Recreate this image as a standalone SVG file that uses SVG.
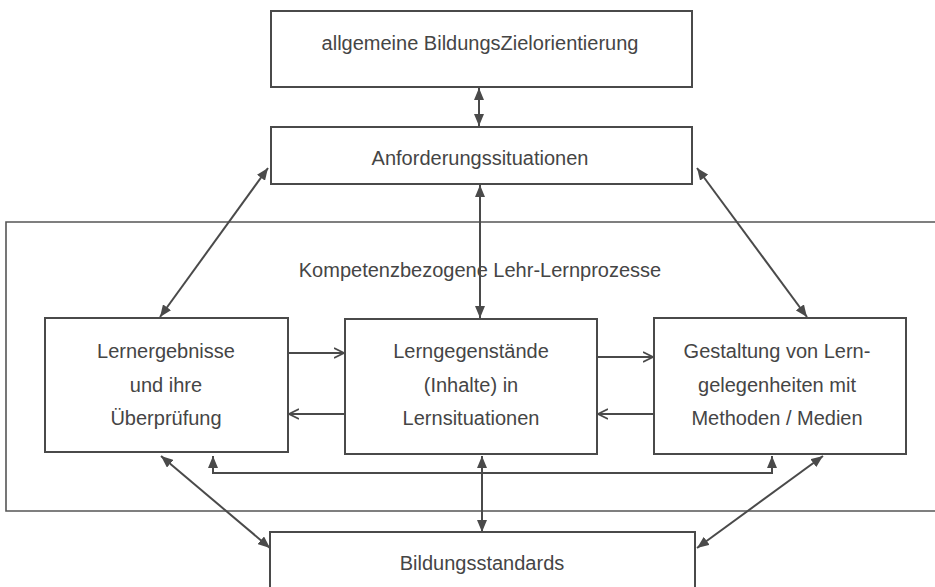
<svg xmlns="http://www.w3.org/2000/svg" width="935" height="587" viewBox="0 0 935 587">
<defs>
<style>
.box{fill:#fff;stroke:#4a4a4a;stroke-width:2}
.frame{fill:none;stroke:#555;stroke-width:1.6}
.t{font-family:"Liberation Sans",Arial,sans-serif;font-size:20px;fill:#454545;text-anchor:middle}
.c{fill:none;stroke:#4a4a4a;stroke-width:2}
.ct{marker-start:url(#tri);marker-end:url(#tri)}
.cv{marker-end:url(#chev)}
</style>
<marker id="tri" viewBox="0 0 12 10" refX="12" refY="5" markerWidth="12" markerHeight="10" markerUnits="userSpaceOnUse" orient="auto-start-reverse"><path d="M0,0 L12,5 L0,10 Z" fill="#4a4a4a"/></marker>
<marker id="chev" viewBox="0 0 10 12" refX="10" refY="6" markerWidth="10" markerHeight="12" markerUnits="userSpaceOnUse" orient="auto-start-reverse"><path d="M0,1 L10,6 L0,11" fill="none" stroke="#4a4a4a" stroke-width="1.8"/></marker>
</defs>
<rect width="935" height="587" fill="#fff"/>
<g id="frame-lehr-lernprozesse">
<path class="frame" d="M940,222 L6,222 L6,511 L940,511"/>
<text class="t" x="480" y="277">Kompetenzbezogene Lehr-Lernprozesse</text>
</g>
<g id="connectors">
<path class="c ct" d="M479,88 L479,126"/>
<path class="c ct" d="M268,168 L160,317"/>
<path class="c ct" d="M697,168 L807,317"/>
<path class="c ct" d="M480,185 L480,318"/>
<path class="c ct" d="M161,456 L270,548"/>
<path class="c ct" d="M823,456 L697,548"/>
<path class="c ct" d="M482,456 L482,532"/>
<path class="c ct" d="M213,456 L213,473 L772,473 L772,456"/>
<path class="c cv" d="M289,353 L344,353"/>
<path class="c cv" d="M344,414 L289,414"/>
<path class="c cv" d="M598,357 L653,357"/>
<path class="c cv" d="M653,414 L598,414"/>
</g>
<g id="node-zielorientierung">
<rect class="box" x="271" y="11" width="421" height="76"/>
<text class="t" x="480" y="50">allgemeine BildungsZielorientierung</text>
</g>
<g id="node-anforderungssituationen">
<rect class="box" x="271" y="127" width="421" height="57"/>
<text class="t" x="480" y="165">Anforderungssituationen</text>
</g>
<g id="node-lernergebnisse">
<rect class="box" x="45" y="318" width="243" height="134"/>
<text class="t" x="166" y="358">Lernergebnisse</text>
<text class="t" x="166" y="392">und ihre</text>
<text class="t" x="166" y="425">Überprüfung</text>
</g>
<g id="node-lerngegenstaende">
<rect class="box" x="345" y="319" width="252" height="135"/>
<text class="t" x="471" y="358">Lerngegenstände</text>
<text class="t" x="471" y="392">(Inhalte) in</text>
<text class="t" x="471" y="425">Lernsituationen</text>
</g>
<g id="node-gestaltung">
<rect class="box" x="654" y="318" width="252" height="136"/>
<text class="t" x="777" y="358">Gestaltung von Lern-</text>
<text class="t" x="777" y="392">gelegenheiten mit</text>
<text class="t" x="777" y="425">Methoden / Medien</text>
</g>
<g id="node-bildungsstandards">
<rect class="box" x="270" y="532" width="425" height="70"/>
<text class="t" x="482" y="570">Bildungsstandards</text>
</g>
</svg>
